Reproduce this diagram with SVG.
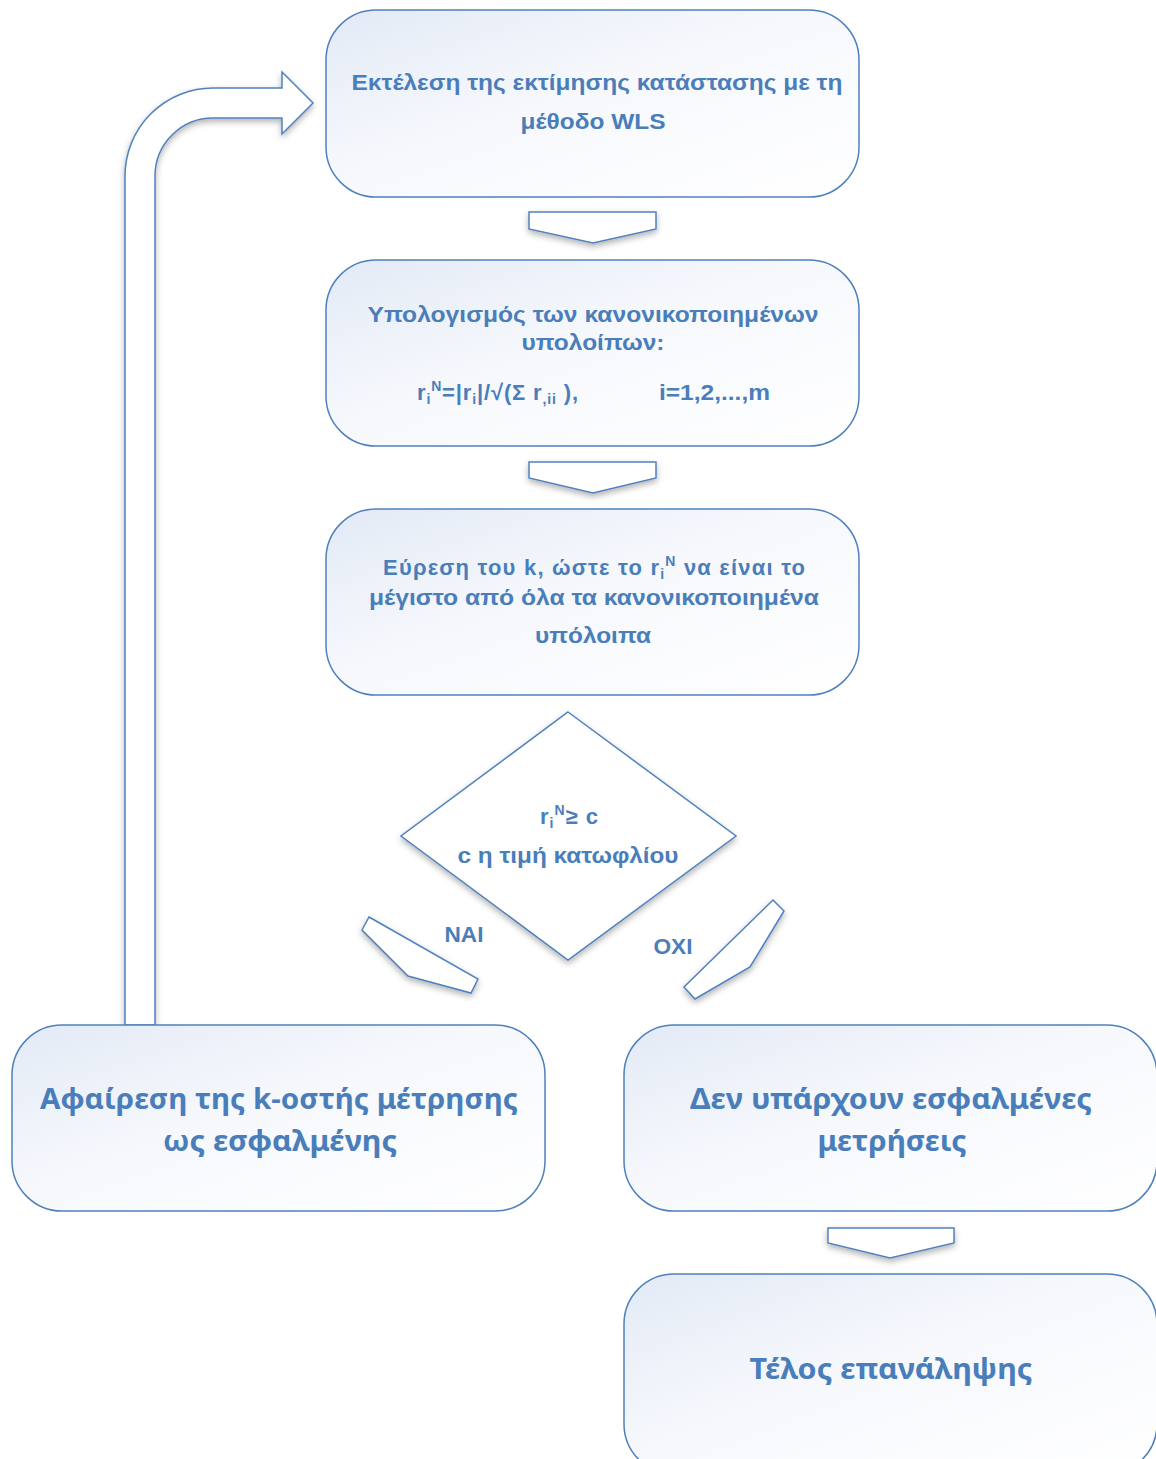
<svg xmlns="http://www.w3.org/2000/svg" width="1156" height="1459" viewBox="0 0 1156 1459">
  <defs>
    <linearGradient id="boxFill" x1="0" y1="0" x2="1" y2="1">
      <stop offset="0" stop-color="#e3eaf6"/>
      <stop offset="0.45" stop-color="#f6f8fc"/>
      <stop offset="1" stop-color="#ffffff"/>
    </linearGradient>
    <filter id="shade" x="-20%" y="-20%" width="140%" height="160%">
      <feDropShadow dx="0" dy="3" stdDeviation="3" flood-color="#000" flood-opacity="0.3"/>
    </filter>
  </defs>
  <style>
    .box { fill: url(#boxFill); stroke: #4f81bd; stroke-width: 1.5; }
    .shape { fill: #ffffff; stroke: #4f81bd; stroke-width: 1.5; stroke-linejoin: miter; }
    .t { font-family: "Liberation Sans", Arial, sans-serif; font-weight: bold; fill: #4a7ebb; text-anchor: middle; font-size: 22px; }
    .l { text-anchor: start; }
    .big { font-family: "Noto Sans", "Open Sans", sans-serif; font-weight: bold; fill: #4a7ebb; text-anchor: middle; font-size: 28px; }
    .sub { font-size: 14px; }
  </style>

  <!-- connectors -->
  <g id="connectors">
    <path id="loop-arrow" class="shape" filter="url(#shade)" d="M125,1025 L125,176 A88,88 0 0 1 213,88 L282,88 L282,72 L313,103 L282,134 L282,118 L213,118 A58,58 0 0 0 155,176 L155,1025 Z"/>
    <polygon id="arrow-1" class="shape" filter="url(#shade)" points="529,212 656,212 656,229 593,243 529,229"/>
    <polygon id="arrow-2" class="shape" filter="url(#shade)" points="529,462 656,462 656,478 593,493 529,478"/>
    <polygon id="arrow-yes" class="shape" filter="url(#shade)" points="369,917 478,979 471,993 408,976 362,930"/>
    <polygon id="arrow-no" class="shape" filter="url(#shade)" points="773,900 784,911 750,967 695,999 684,987"/>
    <polygon id="arrow-3" class="shape" filter="url(#shade)" points="828,1228 954,1228 954,1243 890,1258 828,1243"/>
    <text class="t" x="464" y="942" font-size="21" textLength="39" lengthAdjust="spacingAndGlyphs">ΝΑΙ</text>
    <text class="t" x="673" y="954" font-size="21" textLength="39" lengthAdjust="spacingAndGlyphs">ΟΧΙ</text>
  </g>

  <!-- WLS estimation -->
  <g id="node-wls">
    <rect class="box" x="326" y="10" width="533" height="187" rx="50" ry="50"/>
    <text class="t" x="597" y="90" textLength="491" lengthAdjust="spacingAndGlyphs">Εκτέλεση της εκτίμησης κατάστασης με τη</text>
    <text class="t" x="593" y="129" textLength="145" lengthAdjust="spacingAndGlyphs">μέθοδο WLS</text>
  </g>

  <!-- normalised residuals -->
  <g id="node-residuals">
    <rect class="box" x="326" y="260" width="533" height="186" rx="50" ry="50"/>
    <text class="t" x="593" y="322" textLength="451" lengthAdjust="spacingAndGlyphs">Υπολογισμός των κανονικοποιημένων</text>
    <text class="t" x="593" y="350" textLength="143" lengthAdjust="spacingAndGlyphs">υπολοίπων:</text>
    <text class="t l" x="417" y="400" textLength="161" lengthAdjust="spacing">r<tspan class="sub" dy="4">i</tspan><tspan class="sub" dy="-13">N</tspan><tspan dy="9">=|r</tspan><tspan class="sub" dy="4">i</tspan><tspan dy="-4">|/√(Σ r</tspan><tspan class="sub" dy="4">,ii</tspan><tspan dy="-4"> ),</tspan></text>
    <text class="t l" x="659" y="400" textLength="111" lengthAdjust="spacingAndGlyphs">i=1,2,...,m</text>
  </g>

  <!-- largest residual -->
  <g id="node-max">
    <rect class="box" x="326" y="509" width="533" height="186" rx="50" ry="50"/>
    <text class="t l" x="383" y="575" textLength="422" lengthAdjust="spacing">Εύρεση του k, ώστε το r<tspan class="sub" dy="4">i</tspan><tspan class="sub" dy="-13">N</tspan><tspan dy="9"> να είναι το</tspan></text>
    <text class="t" x="594" y="605" textLength="450" lengthAdjust="spacingAndGlyphs">μέγιστο από όλα τα κανονικοποιημένα</text>
    <text class="t" x="593" y="643" textLength="116" lengthAdjust="spacingAndGlyphs">υπόλοιπα</text>
  </g>

  <!-- threshold test -->
  <g id="node-test">
    <polygon class="shape" filter="url(#shade)" points="568,712 736,836 568,960 401,836"/>
    <text class="t l" x="540" y="824" textLength="58" lengthAdjust="spacing">r<tspan class="sub" dy="4">i</tspan><tspan class="sub" dy="-13">N</tspan><tspan dy="9">≥ c</tspan></text>
    <text class="t" x="568" y="863" textLength="221" lengthAdjust="spacingAndGlyphs">c η τιμή κατωφλίου</text>
  </g>

  <!-- remove measurement -->
  <g id="node-remove">
    <rect class="box" x="12" y="1025" width="533" height="186" rx="50" ry="50"/>
    <text class="big" x="279" y="1109" textLength="478" lengthAdjust="spacingAndGlyphs">Αφαίρεση της k-οστής μέτρησης</text>
    <text class="big" x="280" y="1151" textLength="234" lengthAdjust="spacingAndGlyphs">ως εσφαλμένης</text>
  </g>

  <!-- no bad data -->
  <g id="node-clean">
    <rect class="box" x="624" y="1025" width="533" height="186" rx="50" ry="50"/>
    <text class="big" x="891" y="1109" textLength="402" lengthAdjust="spacingAndGlyphs">Δεν υπάρχουν εσφαλμένες</text>
    <text class="big" x="892" y="1151" textLength="149" lengthAdjust="spacingAndGlyphs">μετρήσεις</text>
  </g>

  <!-- end -->
  <g id="node-end">
    <rect class="box" x="624" y="1274" width="533" height="200" rx="50" ry="50"/>
    <text class="big" x="891" y="1379" textLength="283" lengthAdjust="spacingAndGlyphs">Τέλος επανάληψης</text>
  </g>
</svg>
